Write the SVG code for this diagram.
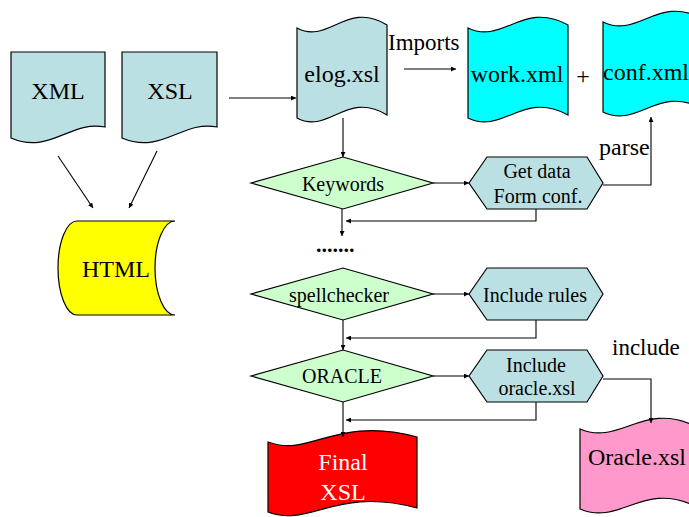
<svg xmlns="http://www.w3.org/2000/svg" width="689" height="517" viewBox="0 0 689 517">
<style>
  .t { font-family: "Liberation Serif", "Times New Roman", serif; fill: #000; }
  .s24 { font-size: 24px; }
  .s23 { font-size: 23px; }
  .s20 { font-size: 20px; }
  .mid { text-anchor: middle; }
  .shape { stroke: #000; stroke-width: 1.2; }
  .lb { fill: #bbe0e3; }
  .gr { fill: #ccffcc; }
  .cy { fill: #00ffff; }
  .conn path, .conn line { fill: none; stroke: #000; stroke-width: 1.1; }
</style>
<defs>
  <marker id="arr" viewBox="0 0 8 8" refX="8" refY="4" markerWidth="5" markerHeight="5" markerUnits="userSpaceOnUse" orient="auto">
    <path d="M0,0 L8,4 L0,8 z" fill="#000"/>
  </marker>
</defs>

<g id="xml">
  <path class="shape lb" d="M11,52 H105 V127 C70,120 50,155 11,138 Z"/>
  <text class="t s24 mid" x="58" y="99">XML</text>
</g>
<g id="xsl">
  <path class="shape lb" d="M122,52 H217 V127 C182,120 162,155 122,138 Z"/>
  <text class="t s24 mid" x="170" y="99">XSL</text>
</g>
<g id="html">
  <path class="shape" fill="#ffff00" d="M77,221 H175 A20,47 0 0 0 175,315 H77 A19,47 0 0 1 77,221 Z"/>
  <text class="t s24 mid" x="116" y="277">HTML</text>
</g>
<g id="elog">
  <path class="shape lb" d="M297,28 C328,45 347,0 387,25 V115 C347,90 328,135 297,118 Z"/>
  <text class="t s24 mid" x="342" y="82">elog.xsl</text>
</g>
<g id="imports-label">
  <text class="t s23" x="388" y="50">Imports</text>
</g>
<g id="work">
  <path class="shape cy" d="M468,28 C503,45 523,0 568,25 V115 C523,90 503,135 468,118 Z"/>
  <text class="t s24 mid" x="517" y="82">work.xml</text>
</g>
<g id="plus">
  <text class="t s24 mid" x="583" y="84">+</text>
</g>
<g id="conf">
  <path class="shape cy" d="M603,22 C638,39 658,-6 703,19 V109 C658,84 638,129 603,112 Z"/>
  <text class="t s24" x="603" y="80">conf.xml</text>
</g>
<g id="parse-label">
  <text class="t s24" x="599" y="155">parse</text>
</g>
<g id="keywords">
  <path class="shape gr" d="M251,183 L343,157 L433,183 L343,209 Z"/>
  <text class="t s20 mid" x="343" y="191">Keywords</text>
</g>
<g id="getdata">
  <path class="shape lb" d="M469,183 L487,157 L587,157 L603,183 L587,209 L487,209 Z"/>
  <text class="t s20 mid" x="537" y="178">Get data</text>
  <text class="t s20 mid" x="538" y="203">Form conf.</text>
</g>
<g id="dots">
  <text class="t" x="316" y="252" style="font-size:22px;font-weight:bold">.......</text>
</g>
<g id="spellchecker">
  <path class="shape gr" d="M251,294 L343,268 L433,294 L343,320 Z"/>
  <text class="t s20 mid" x="339" y="302">spellchecker</text>
</g>
<g id="rules">
  <path class="shape lb" d="M469,294 L487,268 L587,268 L603,294 L587,320 L487,320 Z"/>
  <text class="t s20 mid" x="535" y="302">Include rules</text>
</g>
<g id="oracle">
  <path class="shape gr" d="M251,376 L343,350 L433,376 L343,402 Z"/>
  <text class="t s20 mid" x="342" y="383">ORACLE</text>
</g>
<g id="incoracle">
  <path class="shape lb" d="M469,376 L487,350 L587,350 L603,376 L587,402 L487,402 Z"/>
  <text class="t s20 mid" x="536" y="372">Include</text>
  <text class="t s20 mid" x="537" y="395">oracle.xsl</text>
</g>
<g id="include-label">
  <text class="t s23" x="612" y="355">include</text>
</g>
<g id="final">
  <path class="shape" fill="#ff0000" d="M268,442 C310,458 335,415 417,437 V508 C335,486 310,528 268,512 Z"/>
  <text class="t s24 mid" x="343" y="470" style="fill:#fff">Final</text>
  <text class="t s24 mid" x="343" y="500" style="fill:#fff">XSL</text>
</g>
<g id="oraclexsl">
  <path class="shape" fill="#ff99cc" d="M580,429 C620,446 643,401 695,426 V506 C643,481 620,526 580,509 Z"/>
  <text class="t s24" x="588" y="465">Oracle.xsl</text>
</g>

<g id="connectors" class="conn">
  <line x1="58" y1="156" x2="93" y2="208" marker-end="url(#arr)"/>
  <line x1="157" y1="151" x2="129" y2="208" marker-end="url(#arr)"/>
  <line x1="229" y1="98" x2="296" y2="98" marker-end="url(#arr)"/>
  <line x1="404" y1="69" x2="456" y2="69" marker-end="url(#arr)"/>
  <line x1="343" y1="118" x2="343" y2="157" marker-end="url(#arr)"/>
  <line x1="433" y1="183" x2="469" y2="183" marker-end="url(#arr)"/>
  <path d="M603,185 H651 V117" marker-end="url(#arr)"/>
  <path d="M536,209 V221 H346" marker-end="url(#arr)"/>
  <line x1="342" y1="209" x2="342" y2="236" marker-end="url(#arr)"/>
  <line x1="433" y1="294" x2="469" y2="294" marker-end="url(#arr)"/>
  <path d="M536,320 V338 H346" marker-end="url(#arr)"/>
  <line x1="343" y1="320" x2="343" y2="350" marker-end="url(#arr)"/>
  <line x1="433" y1="376" x2="469" y2="376" marker-end="url(#arr)"/>
  <path d="M603,379 H651 V423" marker-end="url(#arr)"/>
  <path d="M536,402 V420 H346" marker-end="url(#arr)"/>
  <line x1="343" y1="402" x2="343" y2="437" marker-end="url(#arr)"/>
</g>
</svg>
